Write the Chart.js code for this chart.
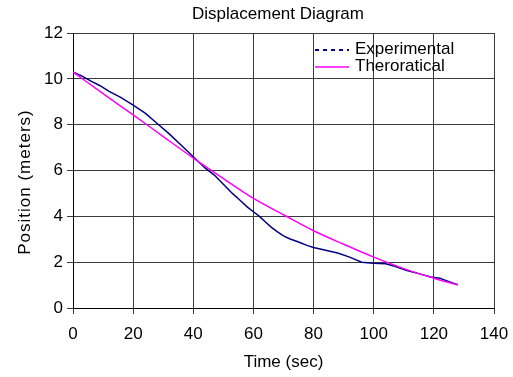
<!DOCTYPE html>
<html>
<head>
<meta charset="utf-8">
<script src="https://cdn.jsdelivr.net/npm/chart.js@4/dist/chart.umd.min.js"></script>
<style>
  html, body { margin: 0; padding: 0; background: #fff; }
  #wrap { width: 513px; height: 377px; }
</style>
</head>
<body>
<div id="wrap"><canvas id="chart" width="513" height="377"></canvas></div>
<script>
const chartTitle = "Displacement Diagram";
const xTitle = "Time (sec)";
const yTitle = "Position (meters)";
const seriesNames = ["Experimental", "Theroratical"];

// experimental run
const expTime = [0, 3, 6, 9, 12, 16, 20, 24, 28, 32, 36, 40, 44, 47, 50, 53, 56, 58, 60, 62,
  64, 66, 68, 70, 72, 75, 78, 80, 84, 88, 92, 96, 100, 104, 107, 111, 115, 119, 122, 123, 126, 128];
const expPos = [10.3, 10.12, 9.9, 9.7, 9.45, 9.18, 8.85, 8.5, 8.05, 7.6, 7.1, 6.6, 6.1, 5.8, 5.4, 5.0, 4.65, 4.4, 4.2, 4.0,
  3.75, 3.52, 3.32, 3.15, 3.02, 2.88, 2.72, 2.64, 2.52, 2.4, 2.22, 2.0, 1.95, 1.93, 1.82, 1.63, 1.5, 1.35, 1.3, 1.25, 1.1, 1.02];

// theoretical curve
const theoTime = [0, 10, 20, 30, 40, 50, 60, 70, 80, 90, 100, 110, 120, 128];
const theoPos = [10.3, 9.35, 8.43, 7.48, 6.54, 5.65, 4.78, 4.07, 3.37, 2.78, 2.22, 1.72, 1.3, 1.0];

const xTicks = [0, 20, 40, 60, 80, 100, 120, 140];
const yTicks = [0, 2, 4, 6, 8, 10, 12];

const toPoints = (xs, ys) => xs.map((x, i) => ({ x: x, y: ys[i] }));

const fontFamily = "'Liberation Sans', Arial, sans-serif";

// title, y title and the legend inside the plot
const overlay = {
  id: "overlay",
  afterDraw(chart) {
    const c = chart.ctx;
    c.save();
    c.fillStyle = "#000";
    c.font = "17px " + fontFamily;
    c.textAlign = "center";
    c.textBaseline = "middle";
    c.fillText(chartTitle, 278, 14);

    c.save();
    c.translate(25, 182);
    c.rotate(-Math.PI / 2);
    c.letterSpacing = "1px";
    c.fillText(yTitle, 0, 0);
    c.restore();

    const lx = 315, tx = 355;
    const rows = [50, 67];
    chart.data.datasets.forEach((ds, i) => {
      c.strokeStyle = ds.borderColor;
      c.lineWidth = i == 0 ? 2 : 1.5;
      c.setLineDash(i == 0 ? [4, 4] : []);
      c.beginPath();
      c.moveTo(lx, rows[i]);
      c.lineTo(lx + 34, rows[i]);
      c.stroke();
      c.setLineDash([]);
      c.fillStyle = "#000";
      c.textAlign = "left";
      c.fillText(ds.label, tx, rows[i] - 0.5);
    });
    c.restore();
  }
};

new Chart(document.getElementById("chart"), {
  type: "line",
  data: {
    datasets: [
      {
        label: seriesNames[0],
        data: toPoints(expTime, expPos),
        borderColor: "#000080",
        borderWidth: 1.5,
        pointRadius: 0,
        tension: 0,
        order: 1
      },
      {
        label: seriesNames[1],
        data: toPoints(theoTime, theoPos),
        borderColor: "#ff00ff",
        borderWidth: 1.5,
        pointRadius: 0,
        cubicInterpolationMode: "monotone",
        order: 0
      }
    ]
  },
  options: {
    responsive: false,
    animation: false,
    layout: { padding: { top: 33, right: 19, left: 0, bottom: 0 } },
    plugins: {
      legend: { display: false },
      title: { display: false },
      tooltip: { enabled: false }
    },
    scales: {
      x: {
        type: "linear",
        min: 0,
        max: 140,
        afterBuildTicks: s => { s.ticks = xTicks.map(v => ({ value: v })); },
        afterFit: s => { s.height = 69; s.paddingLeft = 0; s.paddingRight = 0; },
        grid: { color: "#3a3a3a", lineWidth: 1, tickLength: 6, drawTicks: true },
        border: { color: "#000", width: 1 },
        ticks: { color: "#000", padding: 10, maxRotation: 0, font: { family: fontFamily, size: 17 } },
        title: { display: true, text: xTitle, color: "#000", padding: { top: 0, bottom: 4 }, font: { family: fontFamily, size: 17 } }
      },
      y: {
        min: 0,
        max: 12,
        afterBuildTicks: s => { s.ticks = yTicks.map(v => ({ value: v })); },
        afterFit: s => { s.width = 73; },
        grid: { color: "#3a3a3a", lineWidth: 1, tickLength: 6, drawTicks: true },
        border: { color: "#000", width: 1 },
        ticks: { color: "#000", padding: 4, font: { family: fontFamily, size: 17 } }
      }
    }
  },
  plugins: [overlay]
});
</script>
</body>
</html>
